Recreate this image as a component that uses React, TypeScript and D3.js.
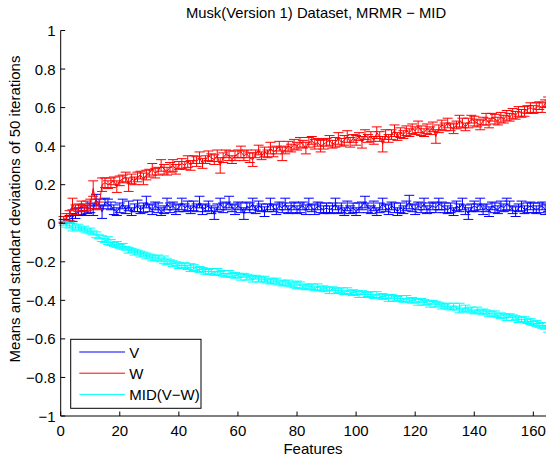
import React from 'react';
import * as d3 from 'd3';

const TITLE = 'Musk(Version 1) Dataset, MRMR \u2212 MID';
const X_LABEL = 'Features';
const Y_LABEL = 'Means and standart deviations of 50 iterations';
const X_TICKS = [0, 20, 40, 60, 80, 100, 120, 140, 160];
const Y_TICKS = [-1, -0.8, -0.6, -0.4, -0.2, 0, 0.2, 0.4, 0.6, 0.8, 1];
const SERIES_NAMES = ['V', 'W', 'MID(V\u2212W)'];
const SERIES_COLORS = ['#0000ff', '#ff0000', '#00ffff'];

const V_MEAN = [
  0.01, 0.02, 0.02, 0.03, 0.05, 0.06, 0.07, 0.06, 0.07, 0.08,
  0.07, 0.12, 0.10, 0.06, 0.11, 0.10, 0.09, 0.07, 0.06, 0.08,
  0.10, 0.07, 0.09, 0.06, 0.08, 0.09, 0.07, 0.08, 0.11, 0.08,
  0.07, 0.09, 0.08, 0.06, 0.07, 0.10, 0.08, 0.09, 0.07, 0.08,
  0.10, 0.08, 0.09, 0.07, 0.09, 0.08, 0.11, 0.07, 0.08, 0.09,
  0.07, 0.05, 0.08, 0.10, 0.08, 0.09, 0.11, 0.08, 0.07, 0.09,
  0.08, 0.05, 0.09, 0.08, 0.10, 0.07, 0.09, 0.08, 0.06, 0.08,
  0.10, 0.08, 0.07, 0.09, 0.08, 0.10, 0.07, 0.08, 0.09, 0.07,
  0.08, 0.09, 0.07, 0.10, 0.08, 0.07, 0.09, 0.08, 0.07, 0.08,
  0.07, 0.08, 0.10, 0.07, 0.08, 0.06, 0.09, 0.07, 0.08, 0.06,
  0.08, 0.09, 0.11, 0.08, 0.07, 0.09, 0.06, 0.08, 0.10, 0.08,
  0.07, 0.09, 0.08, 0.06, 0.08, 0.07, 0.09, 0.11, 0.08, 0.07,
  0.09, 0.08, 0.10, 0.07, 0.08, 0.09, 0.08, 0.10, 0.09, 0.08,
  0.07, 0.08, 0.06, 0.09, 0.08, 0.10, 0.07, 0.05, 0.08, 0.09,
  0.08, 0.10, 0.07, 0.08, 0.06, 0.09, 0.08, 0.07, 0.09, 0.08,
  0.10, 0.09, 0.07, 0.06, 0.08, 0.09, 0.07, 0.08, 0.09, 0.08,
  0.07, 0.08, 0.09, 0.07, 0.08,
];
const V_ERR = [
  0.01, 0.015, 0.02, 0.02, 0.025, 0.02, 0.025, 0.02, 0.02, 0.025,
  0.03, 0.03, 0.025, 0.035, 0.02, 0.025, 0.02, 0.025, 0.02, 0.025,
  0.025, 0.02, 0.025, 0.02, 0.02, 0.03, 0.02, 0.025, 0.03, 0.02,
  0.025, 0.02, 0.025, 0.02, 0.02, 0.03, 0.025, 0.02, 0.025, 0.02,
  0.03, 0.02, 0.025, 0.02, 0.025, 0.02, 0.03, 0.025, 0.02, 0.025,
  0.02, 0.03, 0.02, 0.03, 0.025, 0.02, 0.03, 0.02, 0.025, 0.02,
  0.025, 0.03, 0.02, 0.025, 0.03, 0.02, 0.025, 0.02, 0.025, 0.02,
  0.03, 0.02, 0.025, 0.02, 0.025, 0.03, 0.02, 0.025, 0.02, 0.02,
  0.025, 0.02, 0.025, 0.03, 0.02, 0.025, 0.02, 0.025, 0.02, 0.025,
  0.02, 0.025, 0.03, 0.02, 0.025, 0.02, 0.025, 0.02, 0.025, 0.02,
  0.025, 0.02, 0.03, 0.025, 0.02, 0.025, 0.02, 0.025, 0.03, 0.02,
  0.025, 0.02, 0.025, 0.02, 0.025, 0.02, 0.025, 0.035, 0.02, 0.025,
  0.02, 0.025, 0.03, 0.02, 0.025, 0.02, 0.025, 0.03, 0.02, 0.025,
  0.02, 0.025, 0.02, 0.025, 0.02, 0.03, 0.025, 0.03, 0.02, 0.025,
  0.02, 0.03, 0.025, 0.02, 0.025, 0.02, 0.025, 0.02, 0.025, 0.02,
  0.03, 0.025, 0.02, 0.025, 0.02, 0.025, 0.02, 0.025, 0.02, 0.025,
  0.02, 0.025, 0.02, 0.025, 0.02,
];

const W_MEAN = [
  0.02, 0.03, 0.04, 0.10, 0.07, 0.08, 0.09, 0.08, 0.09, 0.10,
  0.18, 0.10, 0.09, 0.20, 0.21, 0.20, 0.21, 0.22, 0.19, 0.22,
  0.23, 0.24, 0.20, 0.23, 0.22, 0.24, 0.25, 0.23, 0.25, 0.26,
  0.28, 0.26, 0.27, 0.30, 0.28, 0.27, 0.29, 0.30, 0.28, 0.30,
  0.31, 0.30, 0.32, 0.30, 0.33, 0.32, 0.34, 0.31, 0.33, 0.35,
  0.34, 0.33, 0.35, 0.30, 0.34, 0.36, 0.35, 0.33, 0.35, 0.36,
  0.37, 0.35, 0.36, 0.34, 0.33, 0.36, 0.38, 0.35, 0.37, 0.36,
  0.39, 0.37, 0.38, 0.40, 0.36, 0.38, 0.40, 0.39, 0.41, 0.40,
  0.42, 0.41, 0.39, 0.42, 0.43, 0.41, 0.42, 0.40, 0.41, 0.42,
  0.43, 0.41, 0.42, 0.44, 0.42, 0.43, 0.45, 0.42, 0.44, 0.43,
  0.45, 0.42, 0.46, 0.44, 0.45, 0.43, 0.47, 0.45, 0.41, 0.46,
  0.44, 0.46, 0.48, 0.45, 0.47, 0.46, 0.48, 0.47, 0.49, 0.48,
  0.50, 0.48, 0.47, 0.49, 0.48, 0.50, 0.45, 0.49, 0.51, 0.50,
  0.52, 0.50, 0.49, 0.51, 0.53, 0.52, 0.50, 0.52, 0.54, 0.53,
  0.52, 0.51, 0.53, 0.54, 0.52, 0.55, 0.54, 0.53, 0.55, 0.54,
  0.56, 0.55, 0.57, 0.56, 0.58, 0.57, 0.58, 0.59, 0.60, 0.59,
  0.60, 0.61, 0.60, 0.62, 0.63,
];
const W_ERR = [
  0.015, 0.02, 0.025, 0.03, 0.025, 0.02, 0.025, 0.02, 0.025, 0.025,
  0.04, 0.025, 0.02, 0.035, 0.025, 0.02, 0.025, 0.02, 0.03, 0.025,
  0.02, 0.025, 0.035, 0.025, 0.02, 0.025, 0.02, 0.03, 0.025, 0.02,
  0.03, 0.025, 0.02, 0.03, 0.025, 0.02, 0.025, 0.03, 0.025, 0.02,
  0.025, 0.02, 0.03, 0.025, 0.02, 0.025, 0.03, 0.025, 0.02, 0.025,
  0.02, 0.025, 0.03, 0.04, 0.025, 0.02, 0.025, 0.02, 0.025, 0.02,
  0.03, 0.025, 0.02, 0.025, 0.035, 0.02, 0.025, 0.02, 0.025, 0.02,
  0.03, 0.025, 0.02, 0.025, 0.035, 0.02, 0.025, 0.02, 0.025, 0.02,
  0.025, 0.02, 0.03, 0.025, 0.02, 0.025, 0.02, 0.03, 0.025, 0.02,
  0.025, 0.02, 0.025, 0.03, 0.02, 0.025, 0.03, 0.025, 0.02, 0.025,
  0.02, 0.03, 0.025, 0.02, 0.025, 0.02, 0.03, 0.025, 0.04, 0.025,
  0.02, 0.025, 0.03, 0.02, 0.025, 0.02, 0.025, 0.02, 0.025, 0.02,
  0.03, 0.025, 0.02, 0.025, 0.02, 0.025, 0.035, 0.02, 0.025, 0.02,
  0.025, 0.02, 0.025, 0.02, 0.03, 0.025, 0.02, 0.025, 0.02, 0.025,
  0.02, 0.025, 0.02, 0.03, 0.025, 0.02, 0.025, 0.02, 0.025, 0.02,
  0.025, 0.02, 0.025, 0.02, 0.025, 0.02, 0.025, 0.02, 0.025, 0.02,
  0.025, 0.02, 0.025, 0.02, 0.025,
];

const MID_MEAN = [
  0.00, -0.01, -0.01, -0.02, -0.02, -0.02, -0.03, -0.03, -0.04, -0.04,
  -0.05, -0.06, -0.07, -0.08, -0.09, -0.09, -0.10, -0.11, -0.11, -0.12,
  -0.12, -0.13, -0.14, -0.14, -0.15, -0.15, -0.16, -0.16, -0.17, -0.17,
  -0.18, -0.18, -0.18, -0.19, -0.19, -0.20, -0.20, -0.21, -0.21, -0.22,
  -0.22, -0.22, -0.23, -0.23, -0.23, -0.24, -0.24, -0.24, -0.25, -0.25,
  -0.25, -0.26, -0.25, -0.26, -0.26, -0.27, -0.26, -0.27, -0.27, -0.27,
  -0.28, -0.27, -0.28, -0.28, -0.29, -0.28, -0.29, -0.29, -0.29, -0.30,
  -0.30, -0.30, -0.30, -0.31, -0.31, -0.31, -0.31, -0.32, -0.32, -0.32,
  -0.32, -0.33, -0.33, -0.33, -0.33, -0.34, -0.33, -0.34, -0.34, -0.34,
  -0.35, -0.34, -0.35, -0.35, -0.35, -0.36, -0.35, -0.36, -0.36, -0.36,
  -0.37, -0.36, -0.37, -0.37, -0.37, -0.38, -0.37, -0.38, -0.38, -0.38,
  -0.39, -0.38, -0.39, -0.39, -0.39, -0.40, -0.39, -0.40, -0.40, -0.40,
  -0.41, -0.40, -0.41, -0.41, -0.42, -0.41, -0.42, -0.42, -0.43, -0.43,
  -0.43, -0.44, -0.43, -0.44, -0.44, -0.45, -0.44, -0.45, -0.45, -0.46,
  -0.45, -0.46, -0.46, -0.46, -0.47, -0.47, -0.47, -0.48, -0.48, -0.48,
  -0.49, -0.48, -0.49, -0.49, -0.50, -0.50, -0.50, -0.51, -0.51, -0.52,
  -0.52, -0.53, -0.53, -0.54, -0.55,
];
const MID_ERR = [
  0.01, 0.01, 0.015, 0.02, 0.01, 0.015, 0.01, 0.015, 0.01, 0.015,
  0.01, 0.015, 0.01, 0.015, 0.01, 0.02, 0.015, 0.01, 0.015, 0.01,
  0.015, 0.01, 0.015, 0.01, 0.015, 0.01, 0.015, 0.01, 0.015, 0.01,
  0.015, 0.01, 0.015, 0.01, 0.02, 0.015, 0.01, 0.015, 0.01, 0.015,
  0.01, 0.015, 0.01, 0.02, 0.015, 0.01, 0.015, 0.01, 0.015, 0.01,
  0.015, 0.01, 0.015, 0.01, 0.015, 0.01, 0.015, 0.01, 0.015, 0.01,
  0.015, 0.01, 0.015, 0.01, 0.015, 0.01, 0.015, 0.01, 0.015, 0.01,
  0.015, 0.01, 0.015, 0.01, 0.015, 0.01, 0.015, 0.01, 0.015, 0.02,
  0.015, 0.01, 0.015, 0.01, 0.015, 0.01, 0.015, 0.01, 0.015, 0.01,
  0.015, 0.01, 0.015, 0.01, 0.015, 0.01, 0.015, 0.01, 0.015, 0.01,
  0.015, 0.01, 0.015, 0.01, 0.015, 0.01, 0.015, 0.01, 0.015, 0.01,
  0.015, 0.01, 0.015, 0.01, 0.015, 0.01, 0.015, 0.01, 0.015, 0.01,
  0.015, 0.01, 0.015, 0.01, 0.015, 0.01, 0.015, 0.01, 0.015, 0.01,
  0.015, 0.01, 0.015, 0.01, 0.025, 0.01, 0.015, 0.01, 0.015, 0.01,
  0.015, 0.01, 0.015, 0.01, 0.015, 0.01, 0.015, 0.01, 0.015, 0.01,
  0.015, 0.01, 0.015, 0.01, 0.015, 0.01, 0.015, 0.01, 0.015, 0.01,
  0.015, 0.01, 0.015, 0.01, 0.015,
];

const SERIES = [
  { name: SERIES_NAMES[0], color: SERIES_COLORS[0], mean: V_MEAN, err: V_ERR },
  { name: SERIES_NAMES[1], color: SERIES_COLORS[1], mean: W_MEAN, err: W_ERR },
  { name: SERIES_NAMES[2], color: SERIES_COLORS[2], mean: MID_MEAN, err: MID_ERR },
];

const FONT = '"Liberation Sans", Arial, Helvetica, sans-serif';

export default function App() {
  const W = 546;
  const H = 459;
  const x0 = 60.7;
  const pxPerUnit = 2.954;
  const x = d3.scaleLinear().domain([0, 166]).range([x0, x0 + 166 * pxPerUnit]);
  const y = d3.scaleLinear().domain([-1, 1]).range([416, 30.5]);
  const cap = 5;

  const line = d3
    .line<number>()
    .x((_, i) => x(i + 1))
    .y((d) => y(d));

  return (
    <svg
      width={W}
      height={H}
      style={{ position: 'absolute', left: 0, top: 0, background: '#fff' }}
      fontFamily={FONT}
    >
      <rect x={0} y={0} width={W} height={H} fill="#fff" />
      {SERIES.map((s) => {
        let d = '';
        s.mean.forEach((m, i) => {
          const cx = x(i + 1);
          const lo = y(m - s.err[i]);
          const hi = y(m + s.err[i]);
          d += `M${cx},${lo}V${hi}M${cx - cap},${lo}H${cx + cap}M${cx - cap},${hi}H${cx + cap}`;
        });
        return (
          <g key={s.name}>
            <path d={d} stroke={s.color} strokeWidth={1} fill="none" />
            <path d={line(s.mean) || ''} stroke={s.color} strokeWidth={1} fill="none" />
          </g>
        );
      })}
      <line x1={x0} x2={x0} y1={y(1)} y2={y(-1)} stroke="#000" strokeWidth={1} />
      <line x1={x0} x2={W} y1={y(-1)} y2={y(-1)} stroke="#000" strokeWidth={1} />
      {Y_TICKS.map((t) => (
        <g key={'y' + t}>
          <line x1={x0} x2={x0 + 4.5} y1={y(t)} y2={y(t)} stroke="#000" strokeWidth={1} />
          <text x={x0 - 5} y={y(t) + 5.5} textAnchor="end" fontSize={15} fill="#000">
            {t < 0 ? '\u2212' + String(Math.abs(t)) : String(t)}
          </text>
        </g>
      ))}
      {X_TICKS.map((t) => (
        <g key={'x' + t}>
          <line x1={x(t)} x2={x(t)} y1={y(-1)} y2={y(-1) - 4.5} stroke="#000" strokeWidth={1} />
          <text x={x(t)} y={y(-1) + 19.5} textAnchor="middle" fontSize={15} fill="#000">
            {String(t)}
          </text>
        </g>
      ))}
      <text x={313} y={454} textAnchor="middle" fontSize={15} fill="#000">
        {X_LABEL}
      </text>
      <text
        transform={`translate(20,209) rotate(-90)`}
        textAnchor="middle"
        fontSize={15}
        fill="#000"
      >
        {Y_LABEL}
      </text>
      <text x={316} y={18} textAnchor="middle" fontSize={14.8} fill="#000">
        {TITLE}
      </text>
      <rect x={70.7} y={339.3} width={130.3} height={69} fill="#fff" stroke="#000" strokeWidth={1} />
      {SERIES.map((s, i) => (
        <g key={'lg' + s.name}>
          <line x1={79.3} x2={125} y1={352 + i * 21.2} y2={352 + i * 21.2} stroke={s.color} strokeWidth={1} />
          <text x={129.3} y={352 + i * 21.2 + 5.5} fontSize={15} fill="#000">
            {s.name}
          </text>
        </g>
      ))}
    </svg>
  );
}
